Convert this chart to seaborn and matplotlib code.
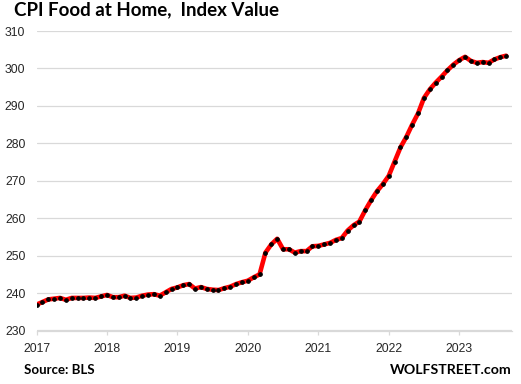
"""CPI Food at Home index value, monthly, 2017 - Sep 2023."""

import pandas as pd
import matplotlib.pyplot as plt
import seaborn as sns

# Monthly index values (Jan 2017 .. Sep 2023)
cpi_2017 = [236.9, 237.6, 238.3, 238.5, 238.7, 238.2, 238.7, 238.7, 238.7, 238.8, 238.7, 239.1]
cpi_2018 = [239.5, 238.9, 238.9, 239.3, 238.7, 238.8, 239.3, 239.6, 239.7, 239.3, 240.2, 241.1]
cpi_2019 = [241.5, 242.1, 242.4, 241.2, 241.6, 241.1, 240.9, 240.8, 241.3, 241.7, 242.4, 242.9]
cpi_2020 = [243.3, 244.2, 245.0, 250.8, 253.0, 254.5, 251.7, 251.7, 250.8, 251.2, 251.2, 252.5]
cpi_2021 = [252.6, 253.0, 253.4, 254.2, 254.7, 256.7, 258.1, 259.1, 262.1, 264.8, 267.2, 269.1]
cpi_2022 = [271.3, 275.1, 278.9, 281.7, 285.0, 288.0, 292.1, 294.4, 296.2, 297.8, 299.5, 301.0]
cpi_2023 = [302.2, 303.1, 302.0, 301.5, 301.7, 301.5, 302.4, 303.0, 303.4]

years = [2017, 2018, 2019, 2020, 2021, 2022, 2023]
y_ticks = [230, 240, 250, 260, 270, 280, 290, 300, 310]

values = cpi_2017 + cpi_2018 + cpi_2019 + cpi_2020 + cpi_2021 + cpi_2022 + cpi_2023
dates = pd.date_range("2017-01-01", periods=len(values), freq="MS")
df = pd.DataFrame({"date": dates, "cpi": values})
df["t"] = df["date"].dt.year + (df["date"].dt.month - 1) / 12

sns.set_theme(style="white")
plt.rcParams["font.family"] = ["Liberation Sans", "DejaVu Sans"]

fig = plt.figure(figsize=(5.21, 3.84), dpi=100)
ax = fig.add_axes([36.5 / 521, 1 - 330.5 / 384, (512 - 36.5) / 521, (330.5 - 31) / 384])

sns.lineplot(data=df, x="t", y="cpi", ax=ax, color="#ff0000", linewidth=3.3,
             marker="o", markersize=2.6, markerfacecolor="black",
             markeredgecolor="black", zorder=3)

ax.set_xlim(2017, 2023.75)
ax.set_ylim(230, 310)
ax.set_yticks(y_ticks)
ax.set_xticks(years)
ax.set_xticklabels([str(y) for y in years])
ax.set_xlabel("")
ax.set_ylabel("")

ax.grid(axis="y", color="#d9d9d9", linewidth=0.9)
ax.grid(axis="x", visible=False)
for side in ["top", "right", "left"]:
    ax.spines[side].set_visible(False)
ax.spines["bottom"].set_color("#d9d9d9")
ax.spines["bottom"].set_linewidth(0.9)

ax.tick_params(axis="y", length=0, pad=8, labelsize=8.8, labelcolor="#262626")
ax.tick_params(axis="x", direction="out", length=3, width=0.9, color="#d9d9d9",
               pad=6, labelsize=8.8, labelcolor="#262626", bottom=True)

fig.text(14 / 521, 1 - 1 / 384, "CPI Food at Home,  Index Value", ha="left", va="top",
         fontsize=13.5, fontweight="bold", family=["Lato", "DejaVu Sans"], color="black")
fig.text(24 / 521, 1 - 374 / 384, "Source: BLS", ha="left", va="baseline",
         fontsize=9.5, fontweight="bold", family=["Lato", "DejaVu Sans"], color="black")
fig.text(512 / 521, 1 - 374 / 384, "WOLFSTREET.com", ha="right", va="baseline",
         fontsize=10.2, fontweight="bold", family=["Lato", "DejaVu Sans"], color="black")

fig.savefig("out.png", dpi=100)
